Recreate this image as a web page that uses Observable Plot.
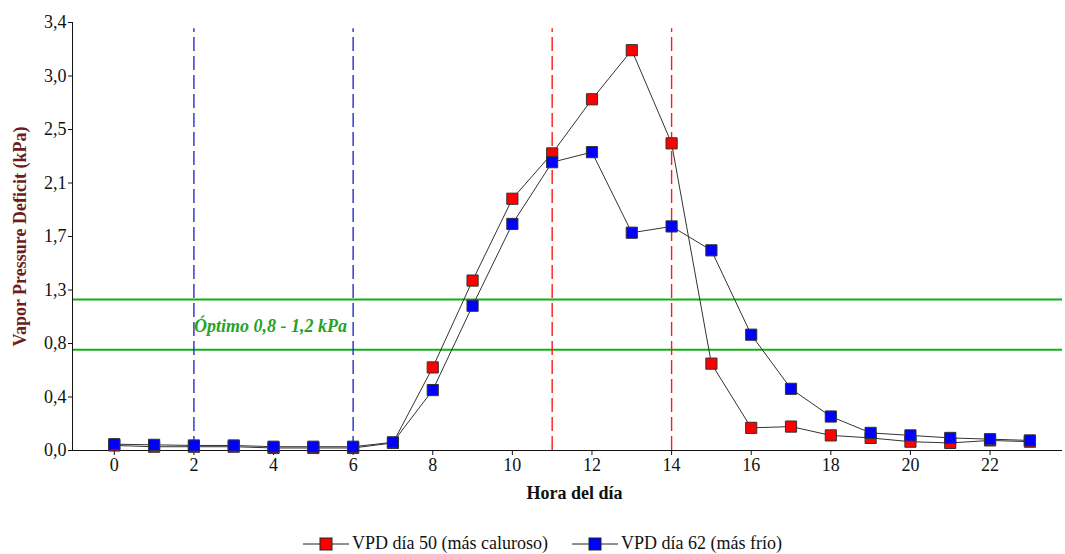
<!DOCTYPE html>
<html>
<head>
<meta charset="utf-8">
<script src="https://cdn.jsdelivr.net/npm/d3@7"></script>
<script src="https://cdn.jsdelivr.net/npm/@observablehq/plot@0.6"></script>
<style>
  body { margin: 0; background: #fff; font-family: "Liberation Serif", "Times New Roman", serif; }
  #wrap { position: relative; width: 1065px; height: 554px; }
  #legend { position: absolute; left: 10px; width: 1065px; top: 533px; display: flex; justify-content: center;
            align-items: center; gap: 24px; font-size: 18px; color: #111; }
  .item { display: flex; align-items: center; gap: 3px; }
</style>
</head>
<body>
<div id="wrap">
  <div id="chart"></div>
  <div id="legend"></div>
</div>
<script>
// Hourly vapour pressure deficit (kPa)
const hours    = [0, 1, 2, 3, 4, 5, 6, 7, 8, 9, 10, 11, 12, 13, 14, 15, 16, 17, 18, 19, 20, 21, 22, 23];
const vpdDay50 = [0.04, 0.03, 0.03, 0.03, 0.02, 0.02, 0.02, 0.06, 0.66, 1.35, 2.00, 2.36, 2.79, 3.18, 2.44, 0.69, 0.18, 0.19, 0.12, 0.10, 0.07, 0.06, 0.08, 0.07];
const vpdDay62 = [0.05, 0.045, 0.04, 0.04, 0.03, 0.03, 0.03, 0.065, 0.48, 1.15, 1.80, 2.29, 2.37, 1.73, 1.78, 1.59, 0.92, 0.49, 0.27, 0.14, 0.12, 0.10, 0.09, 0.08];

const seriesNames = ["VPD día 50 (más caluroso)", "VPD día 62 (más frío)"];
const seriesColors = ["#ff0000", "#0000ff"];

// Reference hours and optimum band
const coolHours = [2, 6];
const hotHours = [11, 14];
const optimumBand = [0.8, 1.2];
const optimumLabel = "Óptimo 0,8 - 1,2 kPa";

// Axis ticks
const xTicks = [0, 2, 4, 6, 8, 10, 12, 14, 16, 18, 20, 22];
const yTickValues = [0, 0.425, 0.85, 1.275, 1.7, 2.125, 2.55, 2.975, 3.4];
const yTickLabels = ["0,0", "0,4", "0,8", "1,3", "1,7", "2,1", "2,5", "3,0", "3,4"];

const xDomain = [-1.05, 23.82];

const day50Rows = hours.map((h, i) => ({hour: h, vpd: vpdDay50[i]}));
const day62Rows = hours.map((h, i) => ({hour: h, vpd: vpdDay62[i]}));

const plot = Plot.plot({
  width: 1065,
  height: 515,
  marginLeft: 72,
  marginRight: 3,
  marginTop: 22,
  marginBottom: 65,
  style: {fontFamily: "Liberation Serif, Times New Roman, serif", fontSize: "18px", color: "#111", background: "white"},
  x: {domain: xDomain},
  y: {domain: [0, 3.4]},
  marks: [
    Plot.ruleY(optimumBand, {stroke: "#12b012", strokeWidth: 2}),
    Plot.ruleX(coolHours, {y1: 0, y2: 3.35, stroke: "#2a2ad0", strokeWidth: 1.4, strokeDasharray: "14,5"}),
    Plot.ruleX(hotHours, {y1: 0, y2: 3.35, stroke: "#ff1a1a", strokeWidth: 1.4, strokeDasharray: "14,5"}),
    Plot.text([optimumLabel], {x: 2, y: 0.99, text: d => d, textAnchor: "start", dx: 0,
      fill: "#26a326", fontWeight: "bold", fontStyle: "italic", fontSize: 18}),
    Plot.axisX({ticks: xTicks, tickSize: 5, tickPadding: 3, label: null}),
    Plot.axisY({ticks: yTickValues, tickFormat: d => yTickLabels[yTickValues.indexOf(d)], tickSize: 4, tickPadding: 2, label: null}),
    Plot.ruleY([0], {stroke: "#111"}),
    Plot.ruleX([xDomain[0]], {y1: 0, y2: 3.4, stroke: "#111"}),
    Plot.line(day50Rows, {x: "hour", y: "vpd", stroke: "#333", strokeWidth: 1}),
    Plot.dot(day50Rows, {x: "hour", y: "vpd", symbol: "square", r: 6.3, fill: seriesColors[0], stroke: "#333", strokeWidth: 1}),
    Plot.line(day62Rows, {x: "hour", y: "vpd", stroke: "#333", strokeWidth: 1}),
    Plot.dot(day62Rows, {x: "hour", y: "vpd", symbol: "square", r: 6.3, fill: seriesColors[1], stroke: "#333", strokeWidth: 1}),
    Plot.text(["Hora del día"], {frameAnchor: "bottom", dy: 48, dx: 7, text: d => d, fontWeight: "bold", fontSize: 18, fill: "#111"}),
    Plot.text(["Vapor Pressure Deficit (kPa)"], {frameAnchor: "left", dx: -52, rotate: -90, textAnchor: "middle", text: d => d,
      fontWeight: "bold", fontSize: 18, fill: "#6e1d1d"})
  ]
});
document.getElementById("chart").appendChild(plot);

// Legend below the chart
const legend = document.getElementById("legend");
seriesNames.forEach((name, i) => {
  const item = document.createElement("div");
  item.className = "item";
  item.innerHTML =
    `<svg width="46" height="14"><line x1="0" x2="46" y1="7" y2="7" stroke="#222" stroke-width="1"/>` +
    `<rect x="17" y="1" width="12" height="12" fill="${seriesColors[i]}" stroke="#222" stroke-width="1"/></svg>` +
    `<span>${name}</span>`;
  legend.appendChild(item);
});
</script>
</body>
</html>
